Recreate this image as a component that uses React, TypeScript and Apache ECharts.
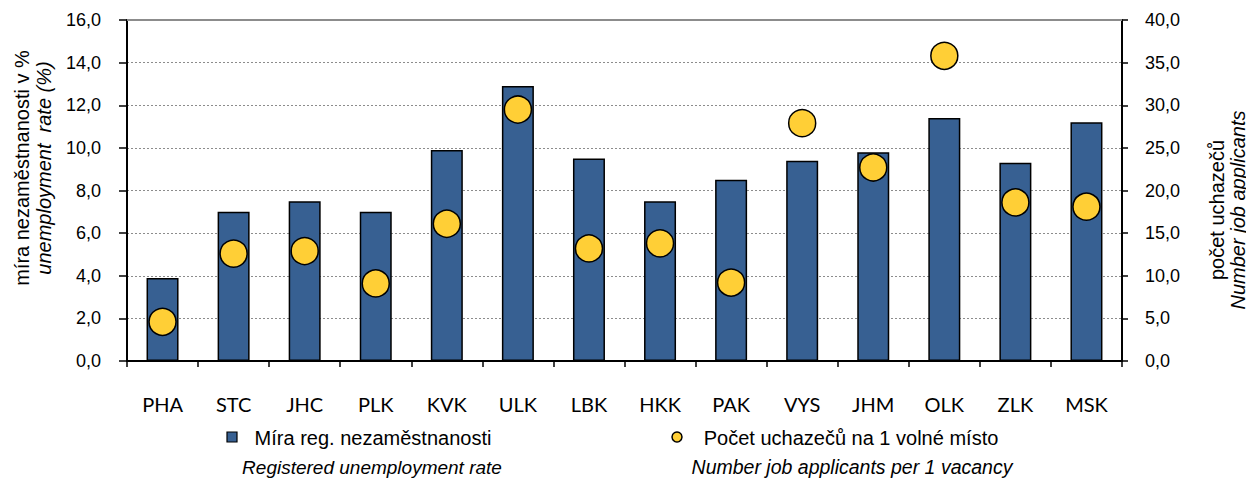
import React, { useEffect, useRef } from "react";
import * as echarts from "echarts";

const categories = ["PHA", "STC", "JHC", "PLK", "KVK", "ULK", "LBK", "HKK", "PAK", "VYS", "JHM", "OLK", "ZLK", "MSK"];
const unemploymentRate = [3.9, 7.0, 7.5, 7.0, 9.9, 12.9, 9.5, 7.5, 8.5, 9.4, 9.8, 11.4, 9.3, 11.2];
const applicantsPerVacancy = [4.6, 12.6, 12.9, 9.1, 16.1, 29.5, 13.2, 13.8, 9.2, 27.9, 22.7, 35.8, 18.6, 18.1];
const leftAxisTitle = ["míra nezaměstnanosti v %", "unemployment  rate (%)"];
const rightAxisTitle = ["počet uchazečů", "Number job applicants"];
const legendBar = ["Míra reg. nezaměstnanosti", "Registered unemployment rate"];
const legendDot = ["Počet uchazečů na 1 volné místo", "Number job applicants per 1 vacancy"];

const FONT = "'Liberation Sans', Arial, sans-serif";
const fmt = (v: number) => v.toFixed(1).replace(".", ",");

export default function App() {
  const ref = useRef<HTMLDivElement>(null);
  useEffect(() => {
    if (!ref.current) return;
    const chart = echarts.init(ref.current, undefined, { renderer: "svg" });
    const gridLeft = 127;
    const gridRight = 132;
    const gridTop = 20;
    const gridBottom = 125;
    const t = (x: number, y: number, text: string, italic: boolean, rot: boolean, size = 20) => ({
      type: "text",
      x,
      y,
      rotation: rot ? Math.PI / 2 : 0,
      style: {
        text,
        font: `${italic ? "italic " : ""}${size}px ${FONT}`,
        fill: "#000",
        textAlign: "center",
        textVerticalAlign: "middle",
      },
    });
    chart.setOption({
      animation: false,
      backgroundColor: "#ffffff",
      grid: { left: gridLeft, right: gridRight, top: gridTop, bottom: gridBottom, containLabel: false },
      xAxis: {
        type: "category",
        data: categories,
        axisLine: { lineStyle: { color: "#000", width: 2 } },
        axisTick: { show: true, length: 6, lineStyle: { color: "#000", width: 1.5 } },
        axisLabel: { color: "#000", fontFamily: "Lato, 'Open Sans', sans-serif", fontSize: 20, margin: 33 },
      },
      yAxis: [
        {
          type: "value",
          min: 0,
          max: 16,
          interval: 2,
          axisLine: { show: true, lineStyle: { color: "#000", width: 2 } },
          axisTick: { show: true, length: 8, lineStyle: { color: "#000", width: 1.5 } },
          axisLabel: { color: "#000", fontFamily: FONT, fontSize: 18, margin: 26, formatter: fmt },
          splitLine: { show: true, lineStyle: { color: "#8c8c8c", width: 1.2, type: [2, 2] } },
        },
        {
          type: "value",
          min: 0,
          max: 40,
          interval: 5,
          position: "right",
          axisLine: { show: true, lineStyle: { color: "#000", width: 2 } },
          axisTick: { show: true, length: 6, lineStyle: { color: "#000", width: 1.5 } },
          axisLabel: { color: "#000", fontFamily: FONT, fontSize: 18, margin: 23, formatter: fmt },
          splitLine: { show: false },
        },
      ],
      series: [
        {
          name: legendBar[0],
          type: "bar",
          data: unemploymentRate,
          barWidth: 32,
          itemStyle: { color: "#376092", borderColor: "#000", borderWidth: 1.5 },
        },
        {
          name: legendDot[0],
          type: "scatter",
          yAxisIndex: 1,
          data: applicantsPerVacancy,
          symbol: "circle",
          symbolSize: 27,
          itemStyle: { color: "#FFCF36", borderColor: "#000", borderWidth: 1.5, opacity: 1 },
          z: 5,
        },
      ],
      graphic: [
        { type: "line", shape: { x1: gridLeft, y1: gridTop, x2: 1254 - gridRight, y2: gridTop }, style: { stroke: "#8c8c8c", lineWidth: 2 }, z: 1 },
        t(22, 168, leftAxisTitle[0], false, true),
        t(44, 168, leftAxisTitle[1], true, true),
        t(1217, 210, rightAxisTitle[0], false, true),
        t(1238, 210, rightAxisTitle[1], true, true),
        { type: "rect", shape: { x: 227, y: 432, width: 10, height: 10 }, style: { fill: "#376092", stroke: "#000", lineWidth: 1.2 } },
        t(373, 438, legendBar[0], false, false),
        t(372, 467, legendBar[1], true, false, 19),
        { type: "circle", shape: { cx: 677, cy: 437, r: 5 }, style: { fill: "#FFCF36", stroke: "#000", lineWidth: 1.5 } },
        t(851, 438, legendDot[0], false, false),
        t(852, 467, legendDot[1], true, false, 19.5),
      ],
    });
    return () => chart.dispose();
  }, []);
  return <div ref={ref} style={{ width: 1254, height: 486, margin: -8 }} />;
}
